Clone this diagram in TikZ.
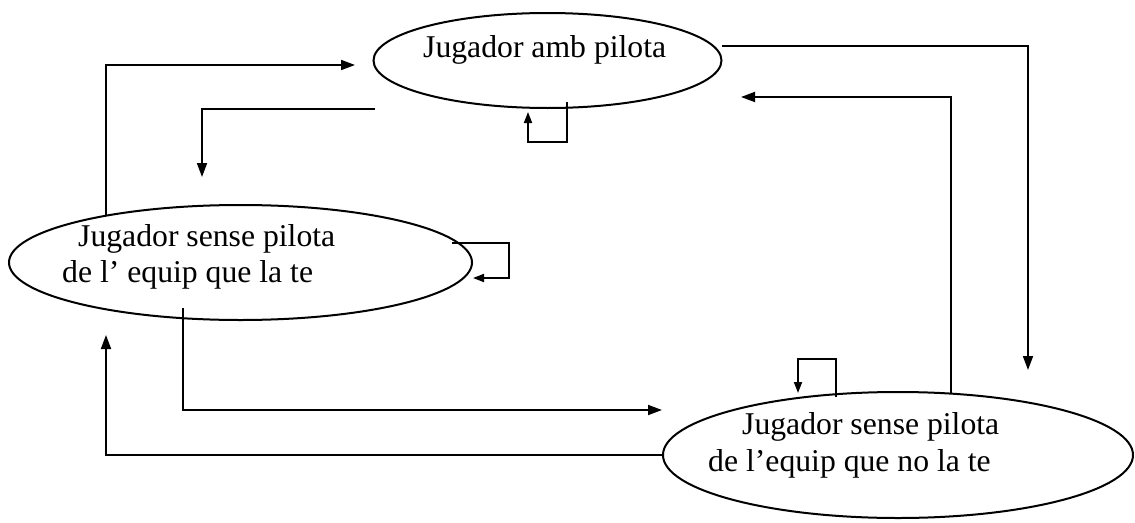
\documentclass[tikz,border=0pt]{standalone}
\usepackage{fontspec}
\setmainfont{Liberation Serif}
\usetikzlibrary{shapes.geometric,arrows.meta}
\begin{document}
\begin{tikzpicture}[x=1pt,y=-1pt,
  ell/.style={draw,ellipse,line width=2pt,inner sep=0pt},
  txt/.style={anchor=base west,inner sep=0pt,font=\fontsize{31.7}{36}\selectfont},
  conn/.style={line width=1.8pt,-{Triangle[length=14pt,width=10pt]}},
  loopc/.style={line width=1.8pt,-{Triangle[length=11pt,width=8pt]}}]
\useasboundingbox (0,0) rectangle (1135,522);
% states
\node[ell,minimum width=348pt,minimum height=95pt] (amb) at (547.5,60.5) {};
\node[ell,minimum width=463pt,minimum height=115pt] (lft) at (240.5,262.5) {};
\node[ell,minimum width=470pt,minimum height=126pt] (sin) at (898,455) {};
% texts
\node[txt] (tamb) at (423,57) {Jugador amb pilota};
\node[txt] (tl1) at (78,246) {Jugador sense pilota};
\node[txt] (tl2) at (62,282) {de l’ equip que la te};
\node[txt] (ts1) at (742,434) {Jugador sense pilota};
\node[txt] (ts2) at (708,471) {de l’equip que no la te};
% free ends
\coordinate (a1) at (722,46);   \coordinate (a2) at (1028,370);
\coordinate (b1) at (106,216);  \coordinate (b2) at (355,65);
\coordinate (c1) at (375,109);  \coordinate (c2) at (202,177);
\coordinate (d1) at (183,308);  \coordinate (d2) at (662,410);
\coordinate (e2) at (106,335);
\coordinate (f1) at (951,393);  \coordinate (f2) at (741,97);
\coordinate (g1) at (567,102);  \coordinate (g2) at (528,112);
\coordinate (h1) at (452,243);  \coordinate (h2) at (473,278);
\coordinate (i1) at (836,397);  \coordinate (i2) at (798,393);
% connectors
\draw[conn] (a1) -- (a1 -| a2) -- (a2);
\draw[conn] (b1) -- (b1 |- b2) -- (b2);
\draw[conn] (c1) -- (c1 -| c2) -- (c2);
\draw[conn] (d1) -- (d1 |- d2) -- (d2);
\draw[conn] (sin.west) -- (sin.west -| e2) -- (e2);
\draw[conn] (f1) -- (f1 |- f2) -- (f2);
% self loops
\draw[loopc] (g1) -- (567,142) -- (528,142) -- (g2);
\draw[loopc] (h1) -- (509,243) -- (509,278) -- (h2);
\draw[loopc] (i1) -- (836,359) -- (798,359) -- (i2);
\end{tikzpicture}
\end{document}
